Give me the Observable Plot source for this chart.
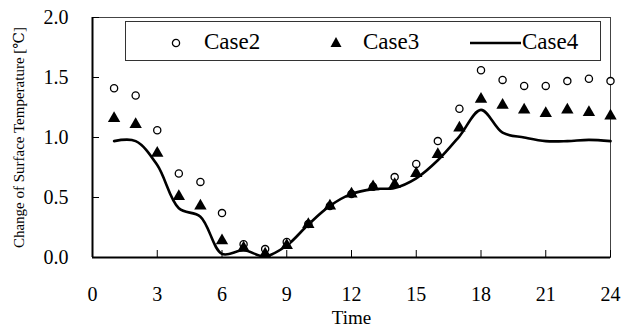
<!DOCTYPE html>
<html>
<head>
<meta charset="utf-8">
<script src="https://cdn.jsdelivr.net/npm/d3@7"></script>
<script src="https://cdn.jsdelivr.net/npm/@observablehq/plot@0.6"></script>
<style>
  html, body { margin: 0; padding: 0; background: #fff; }
  #wrap { position: relative; width: 622px; height: 329px; font-family: "Liberation Serif", "Times New Roman", Times, "DejaVu Serif", serif; }
  #legend { position: absolute; left: 125px; top: 21px; width: 476px; height: 40px; border: 1px solid #333; background: #fff; box-sizing: border-box; font-size: 23px; color: #000; }
  #legend .item { position: absolute; top: 0; height: 40px; line-height: 40px; }
  #legend svg { position: absolute; }
</style>
</head>
<body>
<div id="wrap">
  <div id="chart"></div>
  <div id="legend">
    <svg style="left:44px;top:15px" width="12" height="12"><circle cx="6" cy="6" r="3.6" fill="#fff" stroke="#000" stroke-width="1.3"/></svg>
    <span class="item" style="left:78px">Case2</span>
    <svg style="left:203px;top:14px" width="14" height="12"><path d="M7,1 L12.5,11 L1.5,11 Z" fill="#000"/></svg>
    <span class="item" style="left:237px">Case3</span>
    <svg style="left:344px;top:19px" width="52" height="4"><line x1="0" y1="2" x2="51" y2="2" stroke="#000" stroke-width="2.5"/></svg>
    <span class="item" style="left:396px">Case4</span>
  </div>
</div>
<script>
const hours = [1,2,3,4,5,6,7,8,9,10,11,12,13,14,15,16,17,18,19,20,21,22,23,24];
const case2 = [1.41,1.35,1.06,0.70,0.63,0.37,0.11,0.07,0.13,0.28,0.43,0.53,0.59,0.67,0.78,0.97,1.24,1.56,1.48,1.43,1.43,1.47,1.49,1.47];
const case3 = [1.16,1.11,0.87,0.51,0.43,0.14,0.08,0.03,0.10,0.275,0.43,0.53,0.59,0.61,0.70,0.86,1.08,1.32,1.27,1.23,1.20,1.23,1.21,1.18];
const case4 = [0.97,0.97,0.77,0.41,0.34,0.03,0.06,0.01,0.10,0.275,0.43,0.53,0.57,0.58,0.66,0.81,1.01,1.23,1.04,1.00,0.97,0.97,0.98,0.97];
const xTicks = [0,3,6,9,12,15,18,21,24];
const yTicks = [0,0.5,1.0,1.5,2.0];

const d2 = hours.map((h,i)=>({h, v: case2[i]}));
const d3s = hours.map((h,i)=>({h, v: case3[i]}));
const d4 = hours.map((h,i)=>({h, v: case4[i]}));

const serif = '"Liberation Serif", "Times New Roman", Times, "DejaVu Serif", serif';
const chart = Plot.plot({
  width: 622, height: 329,
  marginLeft: 92, marginRight: 12, marginTop: 17, marginBottom: 72,
  style: { fontFamily: serif, background: "#fff", color: "#000" },
  x: { domain: [0,24] },
  y: { domain: [0,2] },
  marks: [
    Plot.frame({ stroke: "#444", strokeWidth: 1 }),
    Plot.ruleX(xTicks, { insetTop: 233, stroke: "#000", strokeWidth: 1 }),
    Plot.ruleY(yTicks, { insetRight: 511, stroke: "#000", strokeWidth: 1 }),
    Plot.axisX(xTicks, { tickSize: 0, tickPadding: 29, fontSize: 20, fontFamily: serif, tickFormat: d => String(d), label: null }),
    Plot.axisY(yTicks, { tickSize: 0, tickPadding: 24, fontSize: 20, fontFamily: serif, tickFormat: d => d.toFixed(1), label: null }),
    Plot.text(["Time"], { frameAnchor: "bottom", lineAnchor: "middle", dy: 60, fontSize: 19, fontFamily: serif, text: d => d }),
    Plot.text(["Change of Surface Temperature [\u2103]"], { frameAnchor: "left", textAnchor: "middle", lineAnchor: "middle", rotate: -90, dx: -73, fontSize: 15, fontFamily: serif, text: d => d }),
    Plot.line(d4, { x: "h", y: "v", curve: "catmull-rom", stroke: "#000", strokeWidth: 2.6 }),
    Plot.dot(d2, { x: "h", y: "v", r: 3.6, fill: "#fff", stroke: "#000", strokeWidth: 1.3 }),
    Plot.dot(d3s, { x: "h", y: "v", symbol: "triangle", r: 4.6, fill: "#000", stroke: "none" }),
    Plot.ruleX([0], { stroke: "#000", strokeWidth: 2 }),
    Plot.ruleY([0], { stroke: "#000", strokeWidth: 2 })
  ]
});
document.getElementById("chart").appendChild(chart);
</script>
</body>
</html>
